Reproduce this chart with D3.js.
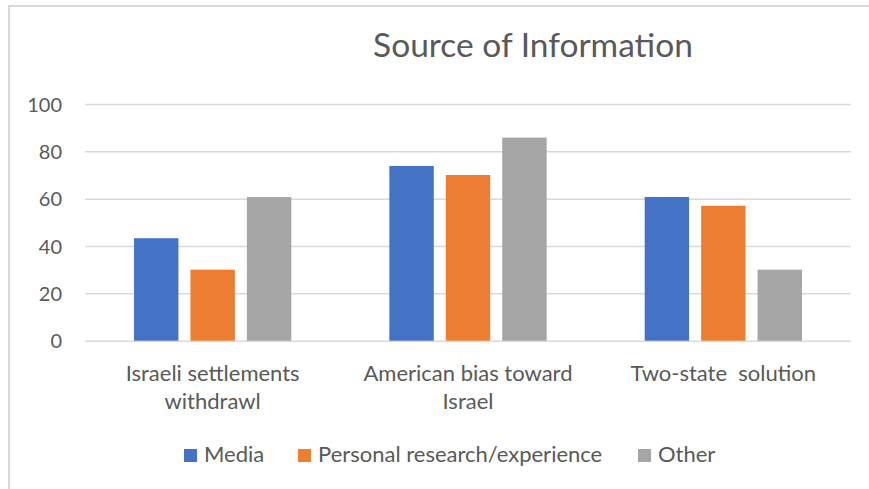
<!DOCTYPE html>
<html>
<head>
<meta charset="utf-8">
<script src="https://cdn.jsdelivr.net/npm/d3@7"></script>
<style>
  html, body { margin: 0; padding: 0; background: #fff; }
  svg { display: block; }
  text { font-family: Lato, "Open Sans", sans-serif; fill: #595959; white-space: pre; }
</style>
</head>
<body>
<svg id="chart" width="869" height="489"></svg>
<script>
// Survey topics and the share of respondents citing each source of information
const categories = [["Israeli settlements", "withdrawl"], ["American bias toward", "Israel"], ["Two-state  solution"]];
const seriesNames = ["Media", "Personal research/experience", "Other"];
const media = [43.3, 73.8, 60.7];
const personal = [30, 70, 57];
const other = [60.7, 85.8, 30];
const yTicks = [0, 20, 40, 60, 80, 100];
const colors = ["#4472C4", "#ED7D31", "#A5A5A5"];

const series = [media, personal, other];
const rows = categories.map((c, i) => ({ key: i, label: c, values: series.map((s, k) => ({ k, v: s[i] })) }));

const svg = d3.select("#chart");
const W = 869, H = 489;
const plot = { left: 85, right: 851, top: 104, bottom: 340.7 };

// chart frame
svg.append("path")
  .attr("d", `M9,${H} V6 H${W}`)
  .attr("fill", "none").attr("stroke", "#d9d9d9").attr("stroke-width", 2);

svg.append("text")
  .attr("x", 533).attr("y", 57)
  .attr("text-anchor", "middle")
  .style("font-size", "33.5px")
  .text("Source of Information");

const y = d3.scaleLinear().domain([0, 100]).range([plot.bottom, plot.top]);
const x0 = d3.scaleBand().domain(rows.map(r => r.key)).range([plot.left, plot.right]).paddingInner(0.384).paddingOuter(0.192);
const x1 = d3.scaleBand().domain([0, 1, 2]).range([0, x0.bandwidth()]).paddingInner(0.213).paddingOuter(0);

// gridlines and value axis labels
const yAxis = d3.axisLeft(y).tickValues(yTicks).tickSize(-(plot.right - plot.left)).tickPadding(23);
const gy = svg.append("g").attr("transform", `translate(${plot.left},0)`).call(yAxis);
gy.select(".domain").remove();
gy.selectAll(".tick line").attr("stroke", "#d9d9d9").attr("stroke-width", 1.5);
gy.selectAll(".tick text").style("font-size", "20px").attr("fill", "#595959").attr("dy", "0.36em");

// bars
const groups = svg.append("g").selectAll("g").data(rows).join("g")
  .attr("transform", d => `translate(${x0(d.key)},0)`);
groups.selectAll("rect").data(d => d.values).join("rect")
  .attr("x", d => x1(d.k))
  .attr("width", x1.bandwidth())
  .attr("y", d => y(d.v))
  .attr("height", d => y(0) - y(d.v))
  .attr("fill", d => colors[d.k]);

// category labels
const gx = svg.append("g");
rows.forEach(r => {
  const cx = x0(r.key) + x0.bandwidth() / 2;
  const t = gx.append("text")
    .attr("x", cx)
    .attr("y", 381)
    .attr("text-anchor", "middle")
    .style("font-size", "22px");
  r.label.forEach((line, i) => {
    t.append("tspan").attr("x", cx).attr("dy", i === 0 ? 0 : 27.5).text(line);
  });
});

// legend
const legendStarts = [184, 298, 638];
const lg = svg.append("g");
seriesNames.forEach((name, i) => {
  lg.append("rect").attr("x", legendStarts[i]).attr("y", 449).attr("width", 13).attr("height", 13).attr("fill", colors[i]);
  lg.append("text").attr("x", legendStarts[i] + 20).attr("y", 462).style("font-size", "22px").text(name);
});
</script>
</body>
</html>
